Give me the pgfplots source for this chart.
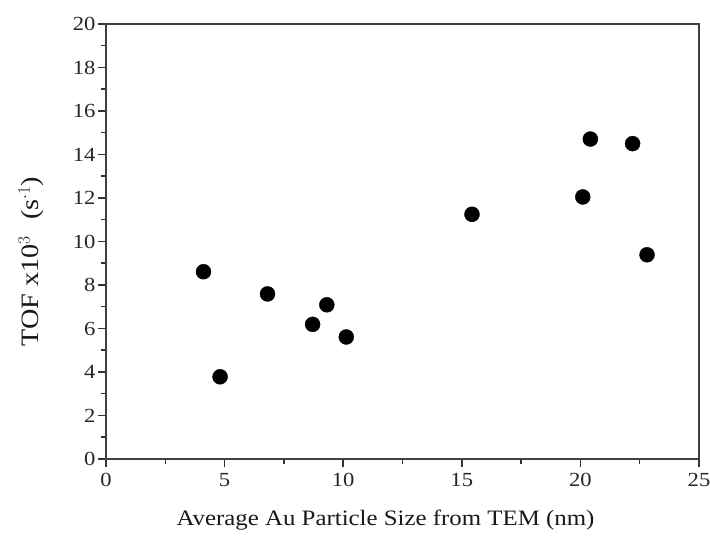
\documentclass[border=0pt]{standalone}
\usepackage{pgfplots}
\pgfplotsset{compat=1.18}
\usepackage{fontspec}
\setmainfont{Liberation Serif}[FakeStretch=1.13]
\begin{document}
\begin{tikzpicture}
\useasboundingbox (-106pt,-79pt) rectangle (604pt,459pt);
\begin{axis}[
  at={(0pt,0pt)}, anchor=south west,
  width=593pt, height=435pt, scale only axis,
  xmin=0, xmax=25, ymin=0, ymax=20,
  xtick={0,5,...,25}, ytick={0,2,...,20},
  minor x tick num=1, minor y tick num=1,
  tick pos=left, tick align=outside,
  major tick length=8pt, minor tick length=5pt,
  every tick/.style={black!80, line width=1.5pt},
  axis line style={line width=1.5pt, draw=black!75},
  /pgf/number format/assume math mode=true,
  tick label style={font=\fontsize{20}{22}\selectfont, text=black!85},
  xticklabel style={yshift=-3pt},
  yticklabel style={xshift=1pt},
  label style={font=\fontsize{22}{24}\selectfont, text=black!90},
  xlabel={Average Au Particle Size from TEM (nm)},
  ylabel={TOF x10$^{3}$\hspace{16pt}(s$^{\cdot 1}$)},
  xlabel style={yshift=-16pt, xshift=-17pt},
  ylabel style={font=\fontsize{25}{27}\selectfont, yshift=22pt, xshift=-20pt},
]
\addplot[only marks, mark=*, mark size=7.5pt, mark options={fill=black, draw=black}] coordinates {
(4.11,8.61) (4.81,3.78) (6.81,7.59) (8.71,6.19) (9.31,7.09) (10.13,5.61)
(15.43,11.25) (20.1,12.05) (20.42,14.71) (22.2,14.5) (22.81,9.39)
};
\end{axis}
\end{tikzpicture}
\end{document}
